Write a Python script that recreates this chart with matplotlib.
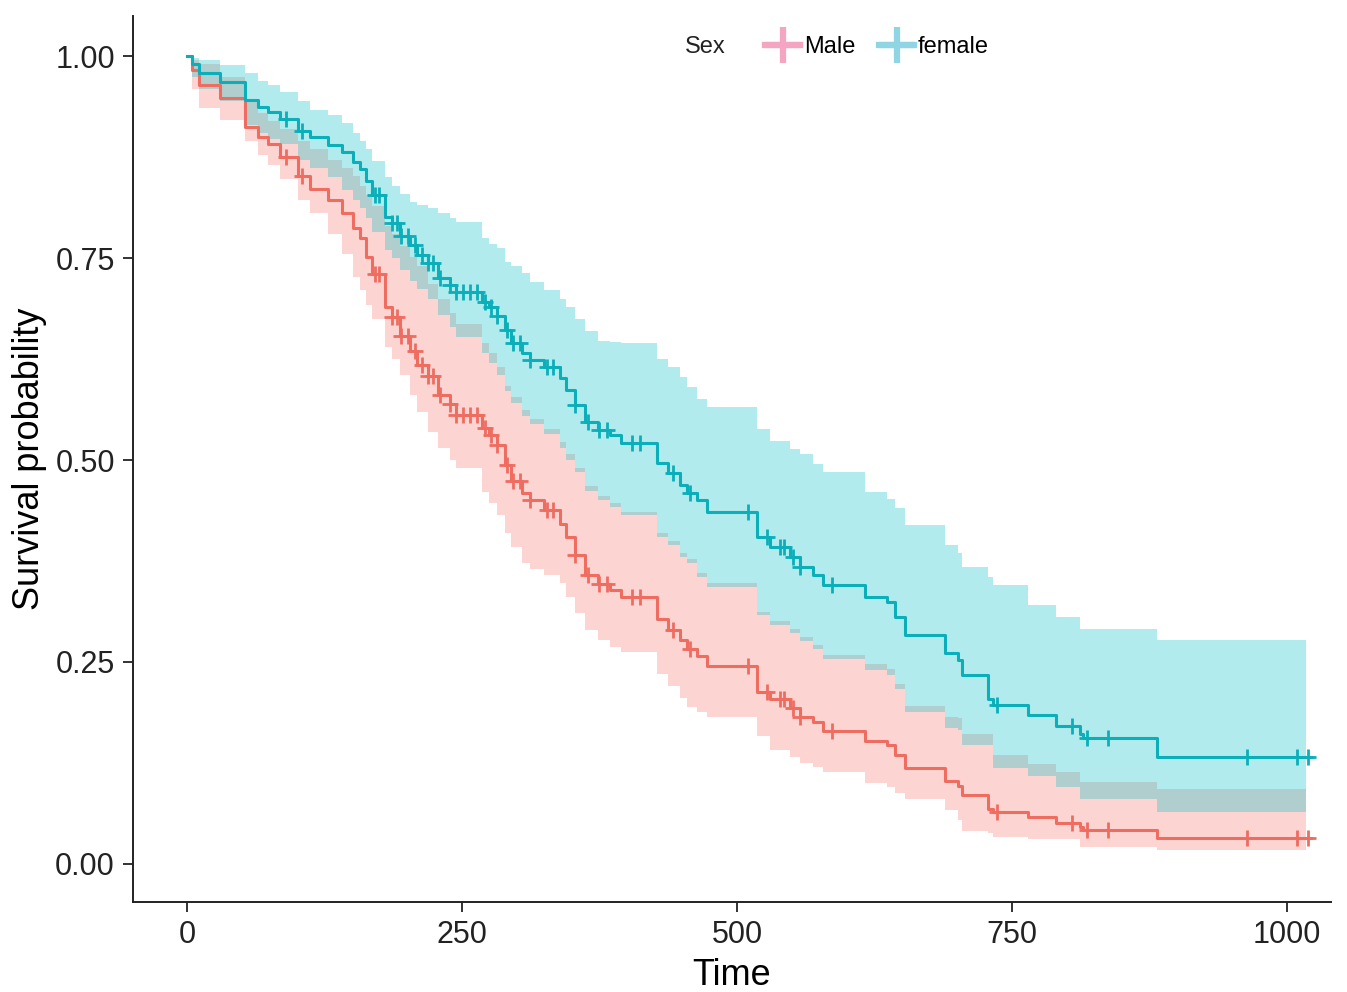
import numpy as np
import matplotlib
matplotlib.use("Agg")
import matplotlib.pyplot as plt
from matplotlib.lines import Line2D

# Schrittzeiten der Kurven (Tage)
zeiten = [0, 5, 11, 30, 53, 65, 74, 85, 101, 112,
          128, 141, 151, 157, 163, 168, 180, 186, 194, 203,
          209, 219, 228, 239, 245, 268, 275, 282, 289, 295,
          305, 312, 325, 339, 345, 353, 362, 374, 385, 395,
          427, 437, 448, 455, 464, 473, 518, 530, 548, 557,
          569, 578, 616, 636, 644, 653, 689, 701, 705, 728,
          733, 765, 790, 812, 815, 882]
t_ende = 1022
t_band_ende = 1017

# Ueberleben female + Konfidenzband
surv_female = [1.0, 0.990, 0.980, 0.968, 0.946, 0.937, 0.931, 0.923, 0.908, 0.900,
               0.890, 0.881, 0.869, 0.860, 0.845, 0.828, 0.801, 0.793, 0.778, 0.766,
               0.754, 0.744, 0.726, 0.717, 0.708, 0.696, 0.689, 0.679, 0.661, 0.645,
               0.632, 0.624, 0.615, 0.601, 0.587, 0.568, 0.547, 0.537, 0.531, 0.521,
               0.496, 0.484, 0.469, 0.459, 0.450, 0.436, 0.405, 0.392, 0.380, 0.368,
               0.358, 0.345, 0.330, 0.324, 0.306, 0.283, 0.261, 0.252, 0.234, 0.204,
               0.197, 0.184, 0.170, 0.161, 0.156, 0.132]
female_hi = [1.0, 0.998, 0.995, 0.989, 0.980, 0.970, 0.965, 0.956, 0.945, 0.934,
             0.927, 0.918, 0.905, 0.895, 0.885, 0.870, 0.850, 0.840, 0.830, 0.820,
             0.816, 0.812, 0.806, 0.800, 0.795, 0.775, 0.767, 0.762, 0.745, 0.740,
             0.732, 0.720, 0.710, 0.700, 0.690, 0.675, 0.660, 0.648, 0.646, 0.645,
             0.625, 0.615, 0.603, 0.590, 0.575, 0.566, 0.538, 0.524, 0.514, 0.508,
             0.495, 0.485, 0.460, 0.452, 0.440, 0.420, 0.395, 0.385, 0.368, 0.355,
             0.345, 0.320, 0.306, 0.291, 0.291, 0.277]
female_lo = [1.0, 0.975, 0.960, 0.945, 0.915, 0.905, 0.898, 0.892, 0.872, 0.862,
             0.850, 0.835, 0.822, 0.812, 0.800, 0.782, 0.760, 0.750, 0.735, 0.722,
             0.712, 0.700, 0.680, 0.665, 0.652, 0.632, 0.620, 0.605, 0.585, 0.570,
             0.555, 0.545, 0.532, 0.515, 0.500, 0.485, 0.462, 0.450, 0.442, 0.432,
             0.405, 0.395, 0.380, 0.372, 0.355, 0.343, 0.308, 0.296, 0.286, 0.276,
             0.266, 0.254, 0.240, 0.234, 0.216, 0.188, 0.168, 0.165, 0.147, 0.147,
             0.119, 0.108, 0.095, 0.080, 0.080, 0.064]

# Ueberleben Male + Konfidenzband
surv_male = [1.0, 0.983, 0.964, 0.948, 0.912, 0.900, 0.892, 0.875, 0.852, 0.836,
             0.822, 0.806, 0.788, 0.775, 0.752, 0.730, 0.690, 0.677, 0.653, 0.635,
             0.618, 0.604, 0.580, 0.569, 0.556, 0.540, 0.531, 0.518, 0.494, 0.474,
             0.459, 0.450, 0.438, 0.421, 0.405, 0.382, 0.358, 0.346, 0.339, 0.330,
             0.303, 0.290, 0.277, 0.266, 0.257, 0.245, 0.213, 0.204, 0.193, 0.182,
             0.175, 0.164, 0.152, 0.147, 0.134, 0.118, 0.103, 0.096, 0.085, 0.068,
             0.064, 0.058, 0.050, 0.045, 0.042, 0.032]
male_hi = [1.0, 0.995, 0.990, 0.975, 0.945, 0.930, 0.920, 0.910, 0.895, 0.885,
           0.872, 0.862, 0.852, 0.840, 0.828, 0.815, 0.790, 0.780, 0.765, 0.752,
           0.740, 0.718, 0.700, 0.682, 0.668, 0.645, 0.632, 0.615, 0.592, 0.578,
           0.562, 0.551, 0.538, 0.522, 0.507, 0.490, 0.468, 0.455, 0.447, 0.436,
           0.410, 0.400, 0.385, 0.377, 0.360, 0.348, 0.312, 0.300, 0.291, 0.281,
           0.271, 0.259, 0.247, 0.241, 0.223, 0.195, 0.182, 0.180, 0.160, 0.160,
           0.135, 0.123, 0.114, 0.101, 0.101, 0.092]
male_lo = [1.0, 0.960, 0.936, 0.921, 0.895, 0.878, 0.866, 0.848, 0.822, 0.806,
           0.780, 0.755, 0.727, 0.710, 0.692, 0.675, 0.640, 0.625, 0.605, 0.580,
           0.560, 0.535, 0.515, 0.500, 0.490, 0.460, 0.447, 0.432, 0.410, 0.392,
           0.372, 0.365, 0.357, 0.348, 0.330, 0.311, 0.290, 0.277, 0.268, 0.262,
           0.235, 0.220, 0.205, 0.194, 0.188, 0.182, 0.158, 0.141, 0.132, 0.125,
           0.120, 0.114, 0.100, 0.095, 0.088, 0.080, 0.066, 0.054, 0.040, 0.038,
           0.033, 0.030, 0.030, 0.021, 0.021, 0.017]

# zensierte Beobachtungen (+)
zensiert = [90, 105, 171, 175, 186, 191, 195, 201, 207, 214,
            219, 224, 230, 239, 245, 251, 257, 264, 271, 276,
            282, 291, 296, 303, 312, 327, 333, 353, 365, 375,
            382, 405, 412, 442, 457, 510, 527, 539, 543, 551,
            557, 586, 736, 805, 818, 837, 964, 1009, 1019]

gruppen = ["Male", "female"]
x_ticks = [0, 250, 500, 750, 1000]
y_ticks = [0.0, 0.25, 0.5, 0.75, 1.0]
y_tick_labels = ["0.00", "0.25", "0.50", "0.75", "1.00"]

farbe_linie = {"Male": "#EF6C61", "female": "#0AAFBA"}
farbe_band = {"Male": "#F8766D", "female": "#00BFC4"}
farbe_legende = {"Male": "#F4A5C1", "female": "#8FD5E4"}

plt.rcParams["font.family"] = ["Liberation Sans", "DejaVu Sans"]


def stufen(t, s, t_max):
    # letzte Stufe bis zum Ende verlaengern
    return np.append(t, t_max), np.append(s, s[-1])


def main():
    fig = plt.figure(figsize=(13.47, 9.92), dpi=100)
    ax = fig.add_axes([133 / 1347, 90 / 992, 1198 / 1347, 886 / 992])

    t = np.array(zeiten, dtype=float)
    daten = {
        "Male": (surv_male, male_lo, male_hi),
        "female": (surv_female, female_lo, female_hi),
    }

    # erst Baender, dann Linien
    for g in gruppen:
        s, lo, hi = daten[g]
        tb, lob = stufen(t, np.array(lo), t_band_ende)
        _, hib = stufen(t, np.array(hi), t_band_ende)
        ax.fill_between(tb, lob, hib, step="post", color=farbe_band[g],
                        alpha=0.3, linewidth=0)

    for g in gruppen:
        s, lo, hi = daten[g]
        ts, ss = stufen(t, np.array(s), t_ende)
        ax.step(ts, ss, where="post", color=farbe_linie[g], lw=2.2, zorder=3)
        # Wert an den Zensierungszeitpunkten
        idx = np.searchsorted(t, zensiert, side="right") - 1
        ax.plot(zensiert, np.array(s)[idx], linestyle="none", marker="+",
                markersize=12, mew=2.0, color=farbe_linie[g], zorder=4)

    ax.set_xlim(-49, 1040)
    ax.set_ylim(-0.0475, 1.05)
    ax.set_xticks(x_ticks)
    ax.set_yticks(y_ticks)
    ax.set_yticklabels(y_tick_labels)
    ax.tick_params(labelsize=22, length=7, width=1.4, color="#333333",
                   labelcolor="#222222", pad=6)
    for side in ["top", "right"]:
        ax.spines[side].set_visible(False)
    for side in ["left", "bottom"]:
        ax.spines[side].set_linewidth(1.4)
        ax.spines[side].set_color("#222222")

    ax.set_xlabel("Time", fontsize=26, labelpad=6)
    ax.set_ylabel("Survival probability", fontsize=26, labelpad=6)

    # Legende oben
    handles = [Line2D([], [], color=farbe_legende[g], lw=4.5, marker="+",
                      markersize=26, mew=4.5) for g in gruppen]
    ax.legend(handles, gruppen, ncol=2, frameon=False, loc="center",
              bbox_to_anchor=(877 / 1347, 1 - 47 / 992),
              bbox_transform=fig.transFigure, fontsize=17,
              handlelength=1.5, handletextpad=0.15, columnspacing=1.0)
    fig.text(705 / 1347, 1 - 47 / 992, "Sex", fontsize=17, ha="center",
             va="center", color="#222222")

    fig.savefig("out.png", dpi=100)


if __name__ == "__main__":
    main()
